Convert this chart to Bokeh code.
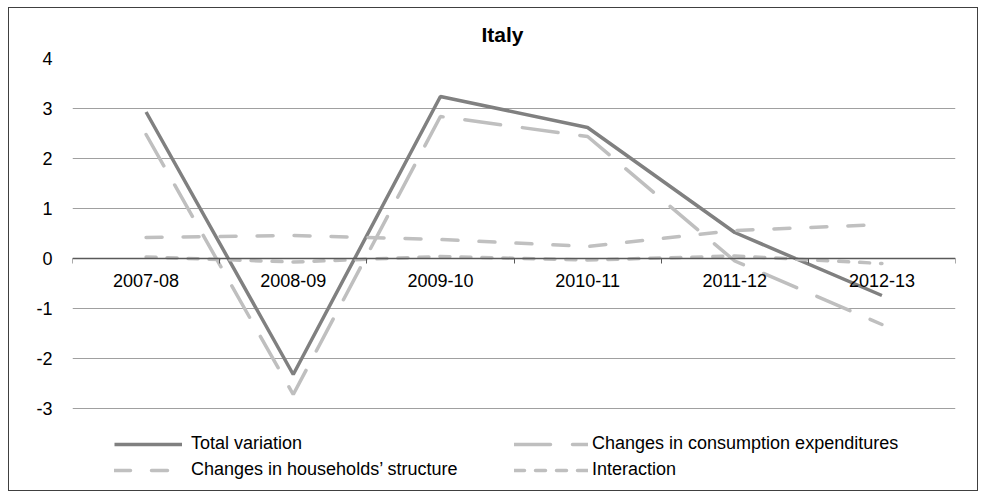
from bokeh.plotting import figure
from bokeh.models import LinearAxis, FixedTicker, Legend, LegendItem, Range1d
from bokeh.embed import file_html
from bokeh.resources import INLINE

# Decomposition of the yearly variation, Italy
periods = ["2007-08", "2008-09", "2009-10", "2010-11", "2011-12", "2012-13"]
total_variation = [2.93, -2.32, 3.24, 2.62, 0.52, -0.74]
consumption_changes = [2.48, -2.72, 2.84, 2.44, -0.05, -1.32]
household_changes = [0.42, 0.46, 0.38, 0.24, 0.56, 0.68]
interaction = [0.03, -0.07, 0.04, -0.03, 0.05, -0.10]
y_ticks = [-3, -2, -1, 0, 1, 2, 3, 4]

FONT = "Liberation Sans"

# each period sits in the middle of its own unit-wide slot
xs = [i + 0.5 for i in range(len(periods))]
bounds = list(range(len(periods) + 1))

# the frame runs down to the bottom edge so the legend can sit inside it,
# below the lowest grid line
p = figure(width=970, height=484, output_backend="svg", toolbar_location=None,
           x_range=Range1d(0, len(periods)), y_range=Range1d(-4.68, 4),
           x_axis_type=None,
           min_border_left=63, min_border_right=24,
           min_border_top=50, min_border_bottom=0)
p.margin = (7, 0, 0, 8)
p.styles = {"border": "1px solid #404040"}
p.outline_line_color = None
p.background_fill_color = "white"
p.border_fill_color = "white"

p.title.text = "Italy"
p.title.align = "left"
p.title.offset = 409
p.title.standoff = 25
p.title.text_font = FONT
p.title.text_font_size = "21px"
p.title.text_font_style = "bold"
p.title.text_color = "black"

yax = p.yaxis[0]
yax.ticker = FixedTicker(ticks=y_ticks)
yax.major_label_overrides = {t: str(t) for t in y_ticks}
yax.axis_line_color = None
yax.major_tick_line_color = None
yax.minor_tick_line_color = None
yax.major_label_text_font = FONT
yax.major_label_text_font_size = "18px"
yax.major_label_text_color = "black"
yax.major_label_standoff = 14

p.ygrid.grid_line_color = "#a0a0a0"
p.ygrid.grid_line_width = 1

# category axis pinned at zero, ticks on the slot boundaries
xax = LinearAxis(fixed_location=0,
                 ticker=FixedTicker(ticks=xs, minor_ticks=bounds),
                 major_label_overrides={x: lab for x, lab in zip(xs, periods)})
xax.axis_line_color = "#595959"
xax.axis_line_width = 1.5
xax.major_tick_line_color = None
xax.minor_tick_line_color = "#595959"
xax.minor_tick_line_width = 1
xax.minor_tick_in = 0
xax.minor_tick_out = 5
xax.major_label_text_font = FONT
xax.major_label_text_font_size = "18px"
xax.major_label_text_color = "black"
xax.major_label_standoff = 9
p.add_layout(xax, "below")

r_total = p.line(xs, total_variation, line_color="#808080", line_width=3.5)
r_cons = p.line(xs, consumption_changes, line_color="#bfbfbf", line_width=3.5,
                line_dash="36 22", line_cap="round")
r_hh = p.line(xs, household_changes, line_color="#c0c0c0", line_width=3.5,
              line_dash="16 21", line_cap="round")
r_int = p.line(xs, interaction, line_color="#bfbfbf", line_width=3.5,
               line_dash="10 11", line_cap="round")


def make_legend(items, loc, glyph_w, standoff):
    lg = Legend(items=items, location=loc, orientation="vertical")
    lg.border_line_color = None
    lg.background_fill_alpha = 0
    lg.padding = 0
    lg.margin = 0
    lg.spacing = 5
    lg.glyph_width = glyph_w
    lg.label_standoff = standoff
    lg.label_text_font = FONT
    lg.label_text_font_size = "18px"
    lg.label_text_color = "black"
    p.add_layout(lg, "center")
    return lg


make_legend([
    LegendItem(label="Total variation", renderers=[r_total]),
    LegendItem(label="Changes in households\u2019 structure", renderers=[r_hh]),
], (42, 12), 68, 9)
make_legend([
    LegendItem(label="Changes in consumption expenditures", renderers=[r_cons]),
    LegendItem(label="Interaction", renderers=[r_int]),
], (442, 12), 74, 4)

open("out.html", "w").write(file_html(p, INLINE))
